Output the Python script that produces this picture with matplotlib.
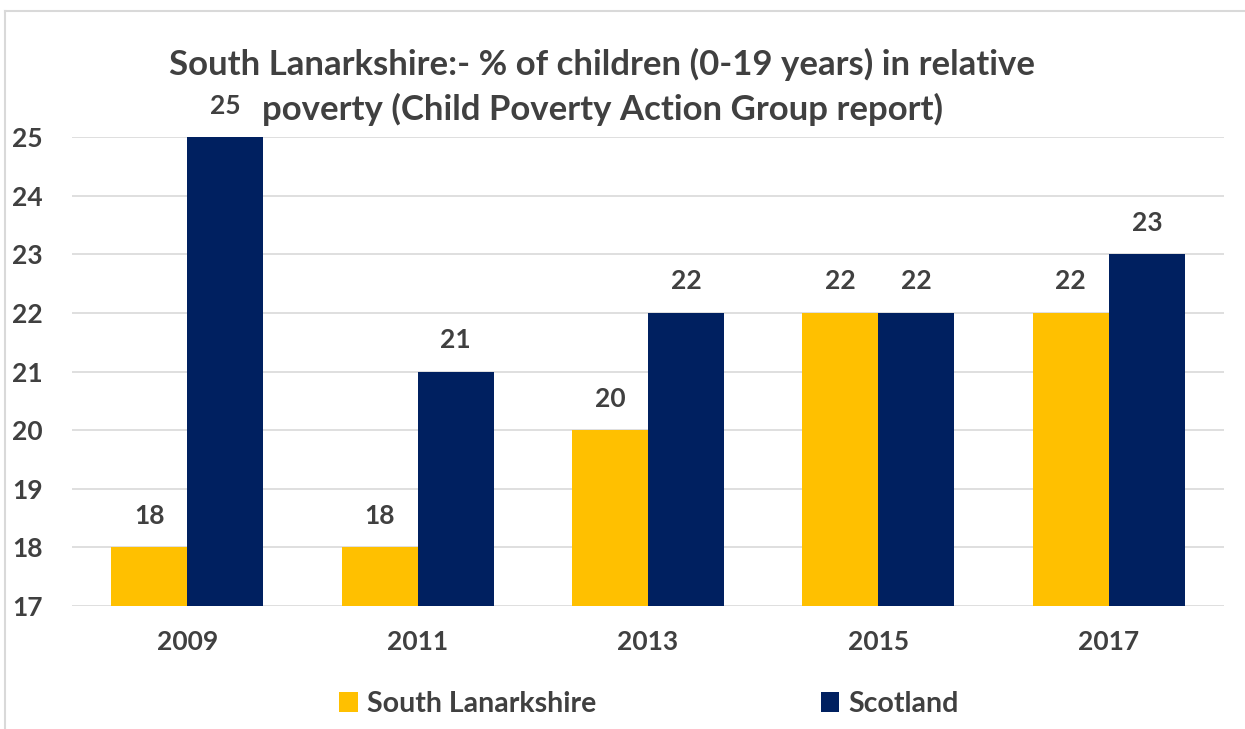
import matplotlib
matplotlib.use("Agg")
import matplotlib.pyplot as plt
import numpy as np
from matplotlib.lines import Line2D
from matplotlib.patches import Patch

years = ["2009", "2011", "2013", "2015", "2017"]
south_lanarkshire = [18, 18, 20, 22, 22]
scotland = [25, 21, 22, 22, 23]
series_names = ["South Lanarkshire", "Scotland"]
colors = ["#FFC000", "#002060"]
title_lines = ["South Lanarkshire:- % of children (0-19 years) in relative",
               "poverty (Child Poverty Action Group report)"]

plt.rcParams['font.family'] = ['Lato', 'DejaVu Sans']
text_color = "#404040"
fs = 19

fig = plt.figure(figsize=(12.45, 7.29), dpi=100)
ax = fig.add_axes([72/1245, 1-606/729, (1224-72)/1245, (606-137)/729])

x = np.arange(len(years))
w = 0.33
ax.bar(x - w/2, np.array(south_lanarkshire) - 17, w, bottom=17, color=colors[0], zorder=2)
ax.bar(x + w/2, np.array(scotland) - 17, w, bottom=17, color=colors[1], zorder=2)

for xi, v in zip(x - w/2, south_lanarkshire):
    ax.annotate(str(v), (xi, v), xytext=(0, 14), textcoords="offset points",
                ha="center", va="bottom", fontsize=fs, fontweight="bold", color=text_color)
for xi, v in zip(x + w/2, scotland):
    ax.annotate(str(v), (xi, v), xytext=(0, 14), textcoords="offset points",
                ha="center", va="bottom", fontsize=fs, fontweight="bold", color=text_color)

ax.set_xlim(-0.5, len(years) - 0.5)
ax.set_ylim(17, 25)
ax.set_yticks(range(17, 26))
ax.set_xticks(x)
ax.set_xticklabels(years)
ax.tick_params(axis="both", length=0, labelsize=fs, labelcolor=text_color)
ax.tick_params(axis="x", pad=17)
ax.tick_params(axis="y", pad=21)
for lab in ax.get_xticklabels() + ax.get_yticklabels():
    lab.set_fontweight("bold")
ax.grid(axis="y", color="#d9d9d9", linewidth=1.2, zorder=0)
ax.set_axisbelow(True)
for s in ax.spines.values():
    s.set_visible(False)

for line, base in zip(title_lines, [75, 120]):
    fig.text(602/1245, 1-base/729, line, ha="center", va="baseline", fontsize=25,
             fontweight="bold", color=text_color)

handles = [Patch(facecolor=c, edgecolor="none") for c in colors]
leg = fig.legend(handles, series_names, loc="center", bbox_to_anchor=(649/1245, 1-704/729),
                 ncol=2, frameon=False, fontsize=20.5, columnspacing=7.9,
                 handlelength=0.65, handleheight=0.72, handletextpad=0.32,
                 borderpad=0, borderaxespad=0)
for t in leg.get_texts():
    t.set_fontweight("bold")
    t.set_color(text_color)

fig.add_artist(Line2D([5/1245, 5/1245], [0, 1-11/729], color="#d9d9d9", linewidth=1.5))
fig.add_artist(Line2D([5/1245, 1], [1-11/729, 1-11/729], color="#d9d9d9", linewidth=1.5))

fig.savefig("out.png", dpi=100)
